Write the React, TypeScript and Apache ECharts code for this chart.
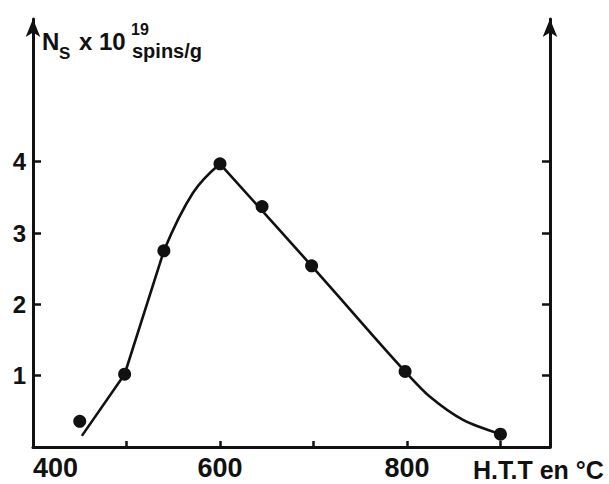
import React, { useEffect, useRef } from "react";
import * as echarts from "echarts";

const xTickValues = [500, 600, 700, 800, 900];
const xLabelValues = [400, 600, 800];
const yTickValues = [1, 2, 3, 4];

const temps = [450, 498, 540, 600, 645, 698, 798, 900];
const spins = [0.36, 1.02, 2.75, 3.97, 3.37, 2.54, 1.06, 0.18];

const riseTemps = [453, 498, 540];
const riseSpins = [0.17, 1.02, 2.75];
const bendTemps = [540, 571, 600];
const bendSpins = [2.75, 3.56, 3.97];
const fallTemps = [600, 698, 757, 798, 825, 860, 900];
const fallSpins = [3.97, 2.54, 1.66, 1.06, 0.7, 0.38, 0.18];

const INK = "#111";
const FONT = "Liberation Sans";

export default function App() {
  const ref = useRef<HTMLDivElement>(null);
  useEffect(() => {
    if (!ref.current) return;
    const chart = echarts.init(ref.current, undefined, { renderer: "svg" });
    const zip = (a: number[], b: number[]) => a.map((v, i) => [v, b[i]]);
    const curve = (xs: number[], ys: number[], smooth: number | boolean) => ({
      type: "line",
      data: zip(xs, ys),
      smooth,
      showSymbol: false,
      lineStyle: { color: INK, width: 2.6, cap: "round", join: "round" },
      z: 2,
    });
    const yAxisCommon = {
      type: "value" as const,
      min: 0,
      max: 6,
      interval: 1,
      splitLine: { show: false },
      axisLine: {
        show: true,
        onZero: false,
        symbol: ["none", "arrow"],
        symbolSize: [11, 18],
        lineStyle: { color: INK, width: 3 },
      },
      axisTick: {
        show: true,
        inside: true,
        length: 8,
        customValues: yTickValues,
        lineStyle: { color: INK, width: 2.5 },
      },
    };
    chart.setOption({
      animation: false,
      backgroundColor: "#fff",
      grid: { left: 33, right: 59, top: 19, bottom: 37, containLabel: false },
      xAxis: {
        type: "value",
        min: 400,
        max: 953,
        interval: 100,
        splitLine: { show: false },
        axisLine: { show: true, onZero: false, lineStyle: { color: INK, width: 3 } },
        axisTick: {
          show: true,
          inside: true,
          length: 6,
          customValues: xTickValues,
          lineStyle: { color: INK, width: 2.5 },
        },
        axisLabel: {
          show: true,
          customValues: xLabelValues,
          alignMinLabel: "left",
          margin: 7,
          color: INK,
          fontFamily: FONT,
          fontWeight: "bold",
          fontSize: 27,
        },
      },
      yAxis: [
        {
          ...yAxisCommon,
          position: "left",
          axisLabel: {
            show: true,
            customValues: yTickValues,
            margin: 7,
            color: INK,
            fontFamily: FONT,
            fontWeight: "bold",
            fontSize: 24,
          },
        },
        {
          ...yAxisCommon,
          position: "right",
          axisLabel: { show: false },
        },
      ],
      series: [
        curve(riseTemps, riseSpins, false),
        curve(bendTemps, bendSpins, 0.4),
        curve(fallTemps, fallSpins, 0.3),
        {
          type: "scatter",
          data: zip(temps, spins),
          symbol: "circle",
          symbolSize: 13,
          itemStyle: { color: INK, opacity: 1 },
          z: 3,
        },
      ],
      graphic: [
        {
          type: "text",
          x: 42,
          y: 41,
          style: { text: "N", font: `bold 24px "${FONT}"`, fill: INK, verticalAlign: "middle" },
        },
        {
          type: "text",
          x: 59,
          y: 53,
          style: { text: "S", font: `bold 17px "${FONT}"`, fill: INK, verticalAlign: "middle" },
        },
        {
          type: "text",
          x: 79,
          y: 41,
          style: { text: "x 10", font: `bold 24px "${FONT}"`, fill: INK, verticalAlign: "middle" },
        },
        {
          type: "text",
          x: 131,
          y: 29,
          style: { text: "19", font: `bold 16px "${FONT}"`, fill: INK, verticalAlign: "middle" },
        },
        {
          type: "text",
          x: 132,
          y: 51,
          style: { text: "spins/g", font: `bold 20px "${FONT}"`, fill: INK, verticalAlign: "middle" },
        },
        {
          type: "text",
          x: 473,
          y: 470,
          style: { text: "H.T.T en °C", font: `bold 25px "${FONT}"`, fill: INK, verticalAlign: "middle" },
        },
      ],
    });
    return () => chart.dispose();
  }, []);
  return <div ref={ref} style={{ width: 609, height: 484, position: "fixed", left: 0, top: 0 }} />;
}
